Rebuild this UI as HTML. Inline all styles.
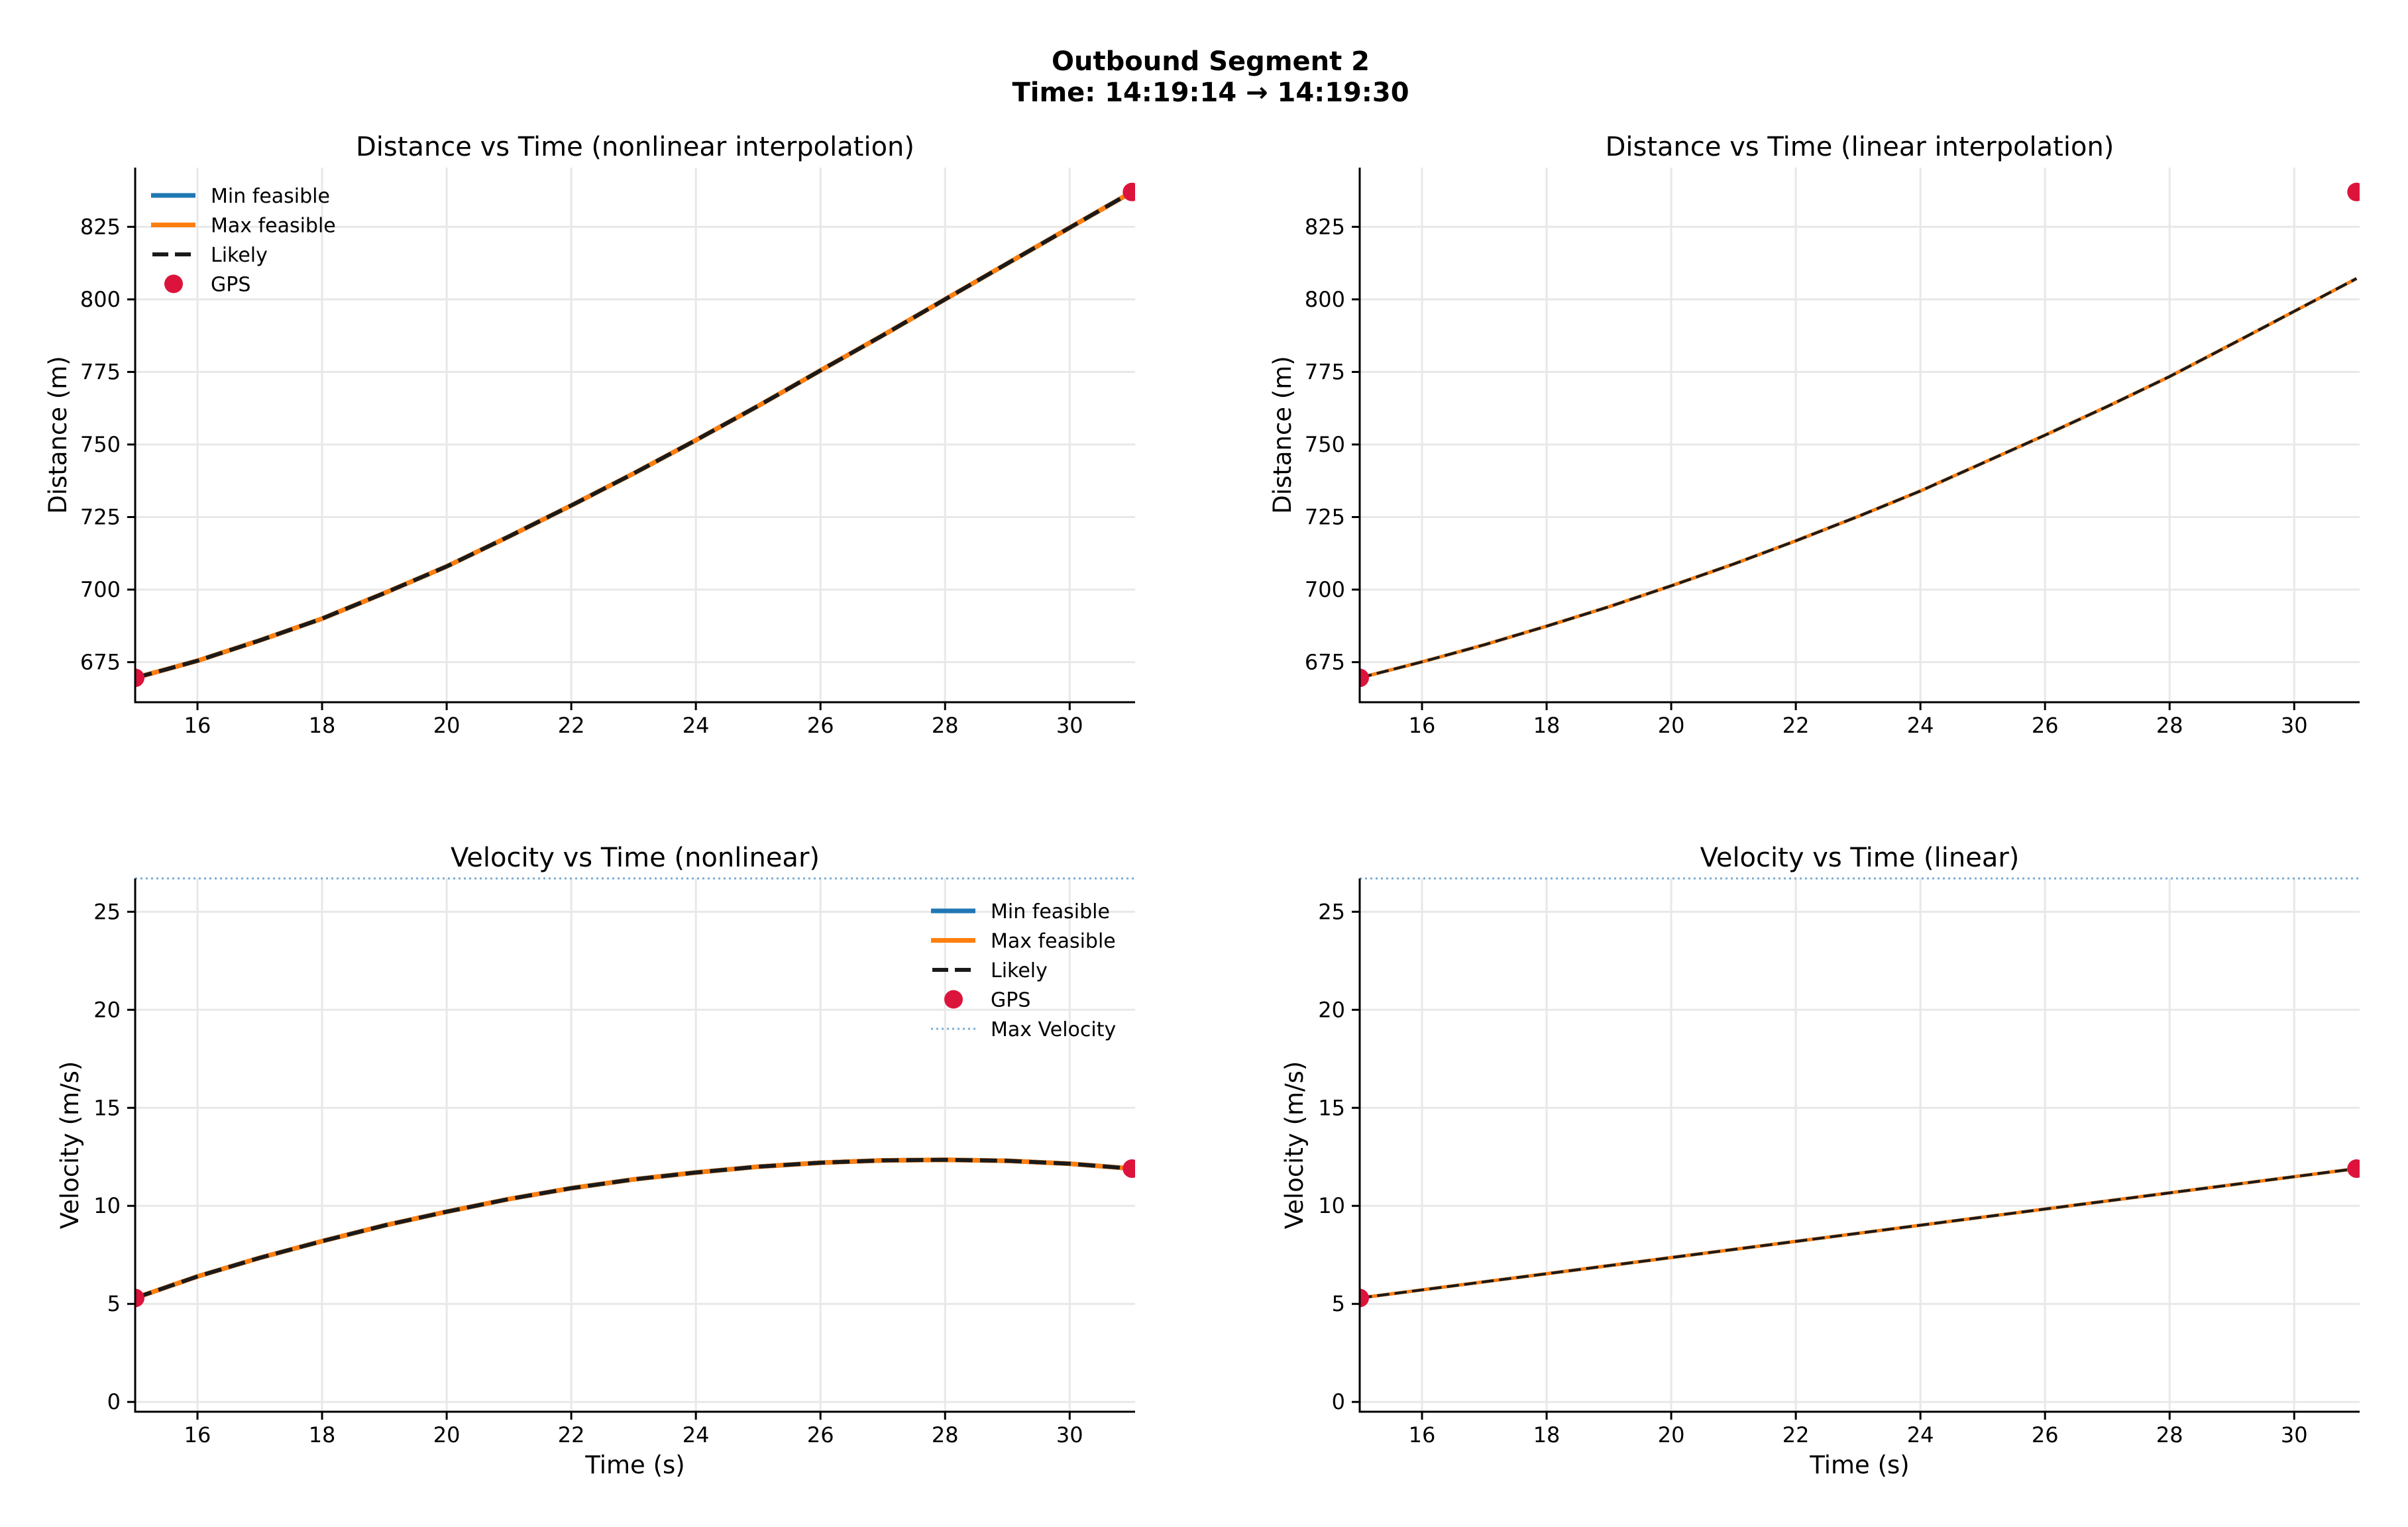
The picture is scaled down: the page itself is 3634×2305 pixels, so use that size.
<!DOCTYPE html>
<html><head><meta charset="utf-8">
<style>
html,body{margin:0;padding:0;background:#fff;}
svg{display:block;font-family:"DejaVu Sans","Liberation Sans",sans-serif;}
</style></head>
<body>
<svg id="fig" width="3634" height="2305" viewBox="0 0 3634 2305" xmlns="http://www.w3.org/2000/svg">
<rect width="3634" height="2305" fill="#fff"/>
<text x="1827" y="106" text-anchor="middle" font-size="40" font-weight="bold">Outbound Segment 2</text>
<text x="1827" y="153" text-anchor="middle" font-size="40" font-weight="bold">Time: 14:19:14 → 14:19:30</text>
<g id="root"></g>
</svg>
<script>
const times = [15,16,17,18,19,20,21,22,23,24,25,26,27,28,29,30,31];
const distNonlinear = [669.6,675.5,682.5,690,698.8,708,718.3,729,740,751.5,763.3,775.5,787.6,800,812.4,824.7,837];
const velNonlinear = [5.3,6.4,7.35,8.2,9.0,9.7,10.35,10.9,11.35,11.7,12.0,12.2,12.32,12.35,12.3,12.15,11.9];
const distLinear = [669.6,675.1,681.0,687.4,694.1,701.3,708.8,716.8,725.2,734.0,743.6,753.2,763.1,773.4,784.6,795.9,807.2];
const linTimes = [15,31];
const velLinear = [5.3,11.9];
const gpsTimes = [15,31];
const gpsDist = [669.6,837.0];
const gpsVel = [5.3,11.9];
const maxVelocity = 26.7;
const xTicks = [16,18,20,22,24,26,28,30];
const distTicks = [675,700,725,750,775,800,825];
const velTicks = [0,5,10,15,20,25];

const NS="http://www.w3.org/2000/svg";
const root=document.getElementById('root');
function mk(tag,attrs,parent){const e=document.createElementNS(NS,tag);for(const k in attrs)e.setAttribute(k,attrs[k]);(parent||root).appendChild(e);return e;}

function panel(cfg){
  const g=mk('g',{});
  
  
  const L=cfg.x0,R=cfg.x1,T=cfg.y0,B=cfg.y1;
  const sx=v=>L+(v-cfg.xmin)/(cfg.xmax-cfg.xmin)*(R-L);
  const sy=v=>B-(v-cfg.ymin)/(cfg.ymax-cfg.ymin)*(B-T);
  const cid='clip-'+cfg.name;
  const cp=mk('clipPath',{id:cid},g);mk('rect',{x:L,y:T-20,width:R-L,height:B-T+20},cp);
  xTicks.forEach(t=>{const l=mk('line',{x1:sx(t),x2:sx(t),y1:T,y2:B,stroke:'#e8e8e8','stroke-width':3},g);
    
    });
  cfg.yTicks.forEach(t=>{const l=mk('line',{x1:L,x2:R,y1:sy(t),y2:sy(t),stroke:'#e8e8e8','stroke-width':3},g);
    
    });
  if(cfg.maxv){const l=mk('line',{x1:L,x2:R,y1:sy(maxVelocity),y2:sy(maxVelocity),stroke:'#7aaad4','stroke-width':3,'stroke-dasharray':'3 5'},g);
    
    }
  const cg=mk('g',{'clip-path':'url(#'+cid+')'},g);
  const path=(xs,ys)=>xs.map((x,i)=>(i?'L':'M')+sx(x).toFixed(1)+' '+sy(ys[i]).toFixed(1)).join(' ');
  const w=cfg.lw;
  const p1=mk('path',{d:path(cfg.xs,cfg.ys),fill:'none',stroke:'#1f77b4','stroke-width':w},cg);
  
  
  const p2=mk('path',{d:path(cfg.xs,cfg.ys),fill:'none',stroke:'#ff7f0e','stroke-width':w},cg);
  
  
  const p3=mk('path',{d:path(cfg.xs,cfg.ys),fill:'none',stroke:'#1a1a1a','stroke-width':w-1,'stroke-dasharray':(w*3.7)+' '+(w*1.6)},cg);
  
  
  gpsTimes.forEach((t,i)=>{const c=mk('circle',{cx:sx(t),cy:sy(cfg.gps[i]),r:14,fill:'#dc143c'},cg);
    
    });
  mk('line',{x1:L,x2:L,y1:T,y2:B+1.5,stroke:'#000','stroke-width':3},g);
  mk('line',{x1:L-1.5,x2:R,y1:B,y2:B,stroke:'#000','stroke-width':3},g);
  xTicks.forEach(t=>{mk('line',{x1:sx(t),x2:sx(t),y1:B,y2:B+12,stroke:'#000','stroke-width':3},g);
    const tx=mk('text',{x:sx(t),y:B+46,'text-anchor':'middle','font-size':32},g);tx.textContent=t;
    
    });
  cfg.yTicks.forEach(t=>{mk('line',{x1:L-12,x2:L,y1:sy(t),y2:sy(t),stroke:'#000','stroke-width':3},g);
    const tx=mk('text',{x:L-22,y:sy(t)+11,'text-anchor':'end','font-size':32},g);tx.textContent=t;
    
    });
  const ti=mk('text',{x:(L+R)/2,y:T-18,'text-anchor':'middle','font-size':40},g);ti.textContent=cfg.title;
  
  
  const yl=mk('text',{x:0,y:0,'text-anchor':'middle','font-size':37,transform:`translate(${cfg.ylx},${(T+B)/2}) rotate(-90)`},g);yl.textContent=cfg.ylabel;
  
  
  if(cfg.xlabel){const xl=mk('text',{x:(L+R)/2,y:B+93,'text-anchor':'middle','font-size':37},g);xl.textContent='Time (s)';
    
    }
  if(cfg.legend){
    const lg=mk('g',{},g);
    
    
    const lx=cfg.legend.x, ly=cfg.legend.y, dy=44.5;
    const items=[['Min feasible','#1f77b4','solid'],['Max feasible','#ff7f0e','solid'],['Likely','#1a1a1a','dash'],['GPS','#dc143c','dot']];
    if(cfg.maxv)items.push(['Max Velocity','#7aaad4','dotted']);
    items.forEach((it,i)=>{const y=ly+i*dy;
      const eg=mk('g',{},lg);
      
      
      if(it[2]==='solid')mk('line',{x1:lx,x2:lx+67,y1:y,y2:y,stroke:it[1],'stroke-width':7},eg);
      else if(it[2]==='dash')mk('line',{x1:lx+2,x2:lx+67,y1:y,y2:y,stroke:it[1],'stroke-width':6,'stroke-dasharray':'24 10'},eg);
      else if(it[2]==='dot')mk('circle',{cx:lx+34,cy:y,r:14,fill:it[1]},eg);
      else mk('line',{x1:lx,x2:lx+67,y1:y,y2:y,stroke:it[1],'stroke-width':3,'stroke-dasharray':'3 5'},eg);
      const t=mk('text',{x:lx+90,y:y+11,'font-size':30},eg);t.textContent=it[0];});
  }
}
const topY=[253,1060], botY=[1326,2131];
const XL=[204,1713], XR=[2052,3561];
panel({name:'distance-nonlinear-panel',x0:XL[0],x1:XL[1],y0:topY[0],y1:topY[1],xmin:15,xmax:31.05,ymin:661.2,ymax:845.4,
  xs:times,ys:distNonlinear,gps:gpsDist,yTicks:distTicks,title:'Distance vs Time (nonlinear interpolation)',ylabel:'Distance (m)',ylx:100,lw:7,legend:{x:228,y:295}});
panel({name:'distance-linear-panel',x0:XR[0],x1:XR[1],y0:topY[0],y1:topY[1],xmin:15,xmax:31.05,ymin:661.2,ymax:845.4,
  xs:times,ys:distLinear,gps:gpsDist,yTicks:distTicks,title:'Distance vs Time (linear interpolation)',ylabel:'Distance (m)',ylx:1948,lw:5});
panel({name:'velocity-nonlinear-panel',x0:XL[0],x1:XL[1],y0:botY[0],y1:botY[1],xmin:15,xmax:31.05,ymin:-0.5,ymax:26.7,
  xs:times,ys:velNonlinear,gps:gpsVel,yTicks:velTicks,title:'Velocity vs Time (nonlinear)',ylabel:'Velocity (m/s)',ylx:118,lw:7,maxv:true,xlabel:true,legend:{x:1405,y:1375}});
panel({name:'velocity-linear-panel',x0:XR[0],x1:XR[1],y0:botY[0],y1:botY[1],xmin:15,xmax:31.05,ymin:-0.5,ymax:26.7,
  xs:linTimes,ys:velLinear,gps:gpsVel,yTicks:velTicks,title:'Velocity vs Time (linear)',ylabel:'Velocity (m/s)',ylx:1966,lw:5,maxv:true,xlabel:true});
</script>
</body></html>
